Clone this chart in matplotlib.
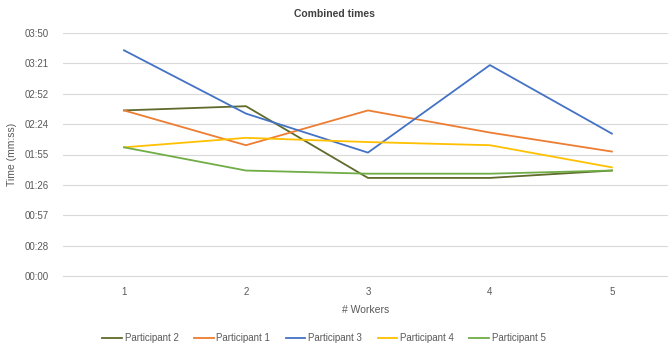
import matplotlib
matplotlib.use("Agg")
import matplotlib.pyplot as plt

workers = [1, 2, 3, 4, 5]
series_names = ["Participant 2", "Participant 1", "Participant 3", "Participant 4", "Participant 5"]
p2 = [157, 161, 93, 93, 100]
p1 = [157, 124, 157, 136, 118]
p3 = [214, 154, 117, 200, 135]
p4 = [122, 131, 127, 124, 103]
p5 = [122, 100, 97, 97, 100]
series_values = [p2, p1, p3, p4, p5]
colors = ["#5E6B2A", "#ED7D31", "#4472C4", "#FFC000", "#70AD47"]

ytick_values = [0, 28.8, 57.6, 86.4, 115.2, 144.0, 172.8, 201.6, 230.4]
ytick_labels = ["00:00", "00:28", "00:57", "01:26", "01:55", "02:24", "02:52", "03:21", "03:50"]

plt.rcParams['font.family'] = ['Liberation Sans', 'DejaVu Sans']

W, H = 668, 349
fig = plt.figure(figsize=(W / 100, H / 100), dpi=100)
ax = fig.add_axes([63 / W, 1 - 276 / H, (668 - 63) / W, 243 / H])

for name, vals, c in zip(series_names, series_values, colors):
    ax.plot(workers, vals, color=c, lw=1.3, label=name)

ax.set_xlim(0.5, 5.46)
ax.set_ylim(0, 230.4)
ax.set_yticks(ytick_values)
ax.set_yticklabels(ytick_labels)
ax.set_xticks(workers)
ax.grid(axis='y', color='#D9D9D9', lw=0.8)
ax.set_axisbelow(True)
for s in ['top', 'right', 'left']:
    ax.spines[s].set_visible(False)
ax.spines['bottom'].set_color('#D9D9D9')
ax.tick_params(axis='y', length=0, labelsize=7, colors='#595959', pad=10)
ax.tick_params(axis='x', length=0, labelsize=7, colors='#595959', pad=8)

ax.set_xlabel("# Workers", fontsize=7.5, color='#595959', labelpad=6)
ax.set_ylabel("Time (mm:ss)", fontsize=7.5, color='#595959', labelpad=6)
fig.text(0.5, 1 - 14 / H, "Combined times", ha='center', va='center', fontsize=7.5,
         color='#404040', fontweight='bold')

fig.legend(loc='center', bbox_to_anchor=(0.485, 1 - 338 / H), ncol=5, frameon=False,
           fontsize=7, handlelength=2.0, handletextpad=0.3, columnspacing=1.6,
           labelcolor='#595959')

fig.savefig("out.png", dpi=100)
